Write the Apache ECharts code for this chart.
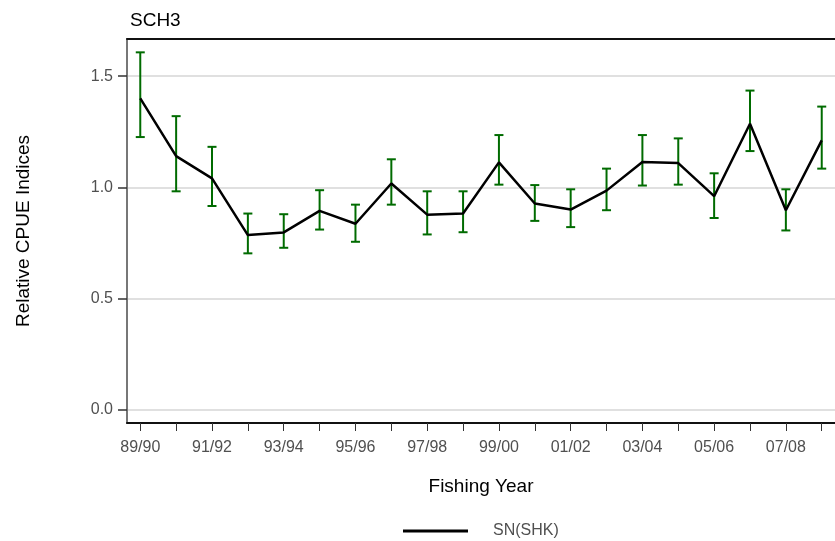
<!DOCTYPE html>
<html>
<head>
<meta charset="utf-8">
<script src="https://cdn.jsdelivr.net/npm/echarts@6/dist/echarts.min.js"></script>
<style>
html,body{margin:0;padding:0;background:#fff;}
#chart{width:835px;height:541px;}
</style>
</head>
<body>
<div id="chart"></div>
<script>
const categories = ['89/90','90/91','91/92','92/93','93/94','94/95','95/96','96/97','97/98','98/99',
                    '99/00','00/01','01/02','02/03','03/04','04/05','05/06','06/07','07/08','08/09'];
const values = [1.40, 1.14, 1.04, 0.785, 0.797, 0.894, 0.836, 1.017, 0.877, 0.882,
                1.112, 0.927, 0.900, 0.985, 1.114, 1.109, 0.960, 1.286, 0.897, 1.211];
const upper  = [1.607, 1.320, 1.182, 0.882, 0.879, 0.987, 0.922, 1.126, 0.982, 0.982,
                1.235, 1.010, 0.991, 1.084, 1.235, 1.220, 1.063, 1.435, 0.991, 1.363];
const lower  = [1.226, 0.982, 0.916, 0.703, 0.728, 0.810, 0.755, 0.922, 0.788, 0.798,
                1.012, 0.849, 0.821, 0.897, 1.008, 1.012, 0.862, 1.163, 0.806, 1.084];
const yTicks = [0, 0.5, 1.0, 1.5];
const seriesName = 'SN(SHK)';
const titleText = 'SCH3';

const FONT = "'Liberation Sans', Arial, sans-serif";
const chart = echarts.init(document.getElementById('chart'), null, {renderer: 'canvas'});

const lineData = values.map((v, i) => [i, v]);
const errData = values.map((v, i) => [i, lower[i], upper[i]]);
const xTickIdx = categories.map((c, i) => i);
const xLabelIdx = categories.map((c, i) => i).filter(i => i % 2 === 0);

const option = {
  animation: false,
  backgroundColor: '#fff',
  title: {
    text: titleText, left: 130, top: 11, padding: 0,
    textStyle: {fontFamily: FONT, fontSize: 19, fontWeight: 'normal', color: '#000'}
  },
  legend: {
    data: [seriesName], left: 398, top: 518, icon: 'rect',
    itemWidth: 65, itemHeight: 3,
    textStyle: {fontFamily: FONT, fontSize: 16, color: '#505050', padding: [0, 0, 0, 20]}
  },
  grid: {left: 127, top: 39, right: -8, bottom: 118, containLabel: false},
  xAxis: [{
    type: 'value', min: -0.37, max: 19.37,
    name: 'Fishing Year', nameLocation: 'middle', nameGap: 54,
    nameTextStyle: {fontFamily: FONT, fontSize: 19, color: '#000'},
    axisLine: {show: true, onZero: false, lineStyle: {color: '#111', width: 2}},
    axisTick: {show: true, length: 8, customValues: xTickIdx, lineStyle: {color: '#333', width: 1}},
    axisLabel: {show: true, customValues: xLabelIdx, margin: 17,
      formatter: v => categories[Math.round(v)],
      fontFamily: FONT, fontSize: 16, color: '#505050'},
    splitLine: {show: false}
  }, {
    type: 'value', position: 'top', min: -0.37, max: 19.37,
    axisLine: {show: true, onZero: false, lineStyle: {color: '#111', width: 2}},
    axisTick: {show: false}, axisLabel: {show: false}, splitLine: {show: false}
  }],
  yAxis: {
    type: 'value', min: -0.06, max: 1.667,
    name: 'Relative CPUE Indices', nameLocation: 'middle', nameGap: 94, nameRotate: 90,
    nameTextStyle: {fontFamily: FONT, fontSize: 19, color: '#000'},
    axisLine: {show: true, onZero: false, lineStyle: {color: '#777', width: 2}},
    axisTick: {show: true, length: 9, customValues: yTicks, lineStyle: {color: '#333', width: 1.5}},
    axisLabel: {show: true, customValues: yTicks, margin: 14,
      formatter: v => v.toFixed(1),
      fontFamily: FONT, fontSize: 16, color: '#505050'},
    splitLine: {show: true, lineStyle: {color: '#e0e0e0', width: 2}}
  },
  series: [{
    type: 'custom', name: 'err', xAxisIndex: 0, z: 2,
    data: errData,
    renderItem: function (params, api) {
      const x = api.value(0);
      const lo = api.coord([x, api.value(1)]);
      const hi = api.coord([x, api.value(2)]);
      const hw = 4.5;
      const style = {stroke: '#006b00', lineWidth: 2, fill: null};
      return {
        type: 'group',
        children: [
          {type: 'line', shape: {x1: lo[0], y1: lo[1], x2: hi[0], y2: hi[1]}, style: style},
          {type: 'line', shape: {x1: lo[0] - hw, y1: lo[1], x2: lo[0] + hw, y2: lo[1]}, style: style},
          {type: 'line', shape: {x1: hi[0] - hw, y1: hi[1], x2: hi[0] + hw, y2: hi[1]}, style: style}
        ]
      };
    }
  }, {
    type: 'line', name: seriesName, xAxisIndex: 0, z: 3,
    data: lineData, showSymbol: false, symbol: 'none',
    lineStyle: {color: '#000', width: 2.5},
    itemStyle: {color: '#000'}
  }]
};
chart.setOption(option);
</script>
</body>
</html>
